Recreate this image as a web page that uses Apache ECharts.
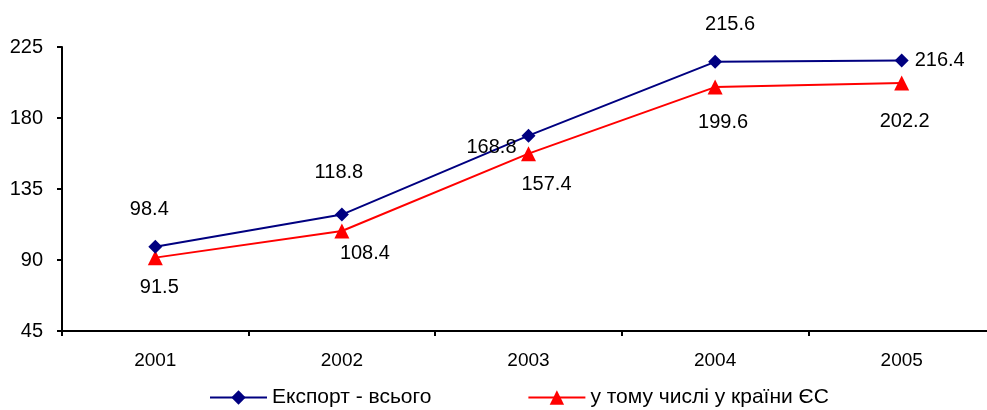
<!DOCTYPE html>
<html>
<head>
<meta charset="utf-8">
<script src="https://cdn.jsdelivr.net/npm/echarts@6/dist/echarts.min.js"></script>
<style>html,body{margin:0;padding:0;background:#fff;}#c{width:987px;height:410px;}</style>
</head>
<body>
<div id="c"></div>
<script>
const categories = ['2001', '2002', '2003', '2004', '2005'];
const exportTotal = [98.4, 118.8, 168.8, 215.6, 216.4];
const exportEU = [91.5, 108.4, 157.4, 199.6, 202.2];
const seriesNames = ['Експорт - всього', 'у тому числі у країни ЄС'];
const yTicks = { min: 45, max: 225, step: 45 };

const totalLabelOffsets = [[-6, -37], [-3, -42], [-37, 12], [15, -37], [38, 0]];
const euLabelOffsets = [[4, 30], [23, 23], [18, 31], [8, 35], [3, 39]];

const font = 'Liberation Sans, Arial, sans-serif';
function withLabels(values, offsets) {
  return values.map((v, i) => ({
    value: v,
    label: { show: true, position: 'inside', offset: offsets[i], formatter: '{c}' }
  }));
}
const labelStyle = { color: '#000', fontSize: 20, fontFamily: font, align: 'center', verticalAlign: 'middle' };

const chart = echarts.init(document.getElementById('c'), null, { renderer: 'canvas' });
chart.setOption({
  animation: false,
  backgroundColor: '#fff',
  grid: { left: 62, top: 47, right: -8, bottom: 79, containLabel: false, outerBoundsMode: 'none' },
  xAxis: {
    type: 'category',
    data: categories,
    boundaryGap: true,
    axisLine: { lineStyle: { color: '#000', width: 2 } },
    axisTick: { show: true, length: 5, lineStyle: { color: '#000', width: 2 } },
    axisLabel: { color: '#000', fontSize: 19, fontFamily: font, margin: 20 },
    splitLine: { show: false }
  },
  yAxis: {
    type: 'value',
    min: yTicks.min, max: yTicks.max, interval: yTicks.step,
    axisLine: { show: true, lineStyle: { color: '#000', width: 2 } },
    axisTick: { show: true, length: 5, lineStyle: { color: '#000', width: 2 } },
    axisLabel: { color: '#000', fontSize: 20, fontFamily: font, margin: 19 },
    splitLine: { show: false }
  },
  legend: {
    top: 382,
    left: 204,
    itemWidth: 57,
    itemHeight: 18,
    itemGap: 96,
    textStyle: { color: '#000', fontSize: 21, fontFamily: font },
    data: seriesNames
  },
  series: [
    {
      name: seriesNames[0],
      type: 'line',
      data: withLabels(exportTotal, totalLabelOffsets),
      symbol: 'diamond',
      symbolSize: 14,
      itemStyle: { color: '#000080' },
      lineStyle: { color: '#000080', width: 2 },
      label: labelStyle,
      z: 3
    },
    {
      name: seriesNames[1],
      type: 'line',
      data: withLabels(exportEU, euLabelOffsets),
      symbol: 'triangle',
      symbolSize: 15,
      itemStyle: { color: '#FF0000' },
      lineStyle: { color: '#FF0000', width: 2 },
      label: labelStyle,
      z: 2
    }
  ]
});
</script>
</body>
</html>
